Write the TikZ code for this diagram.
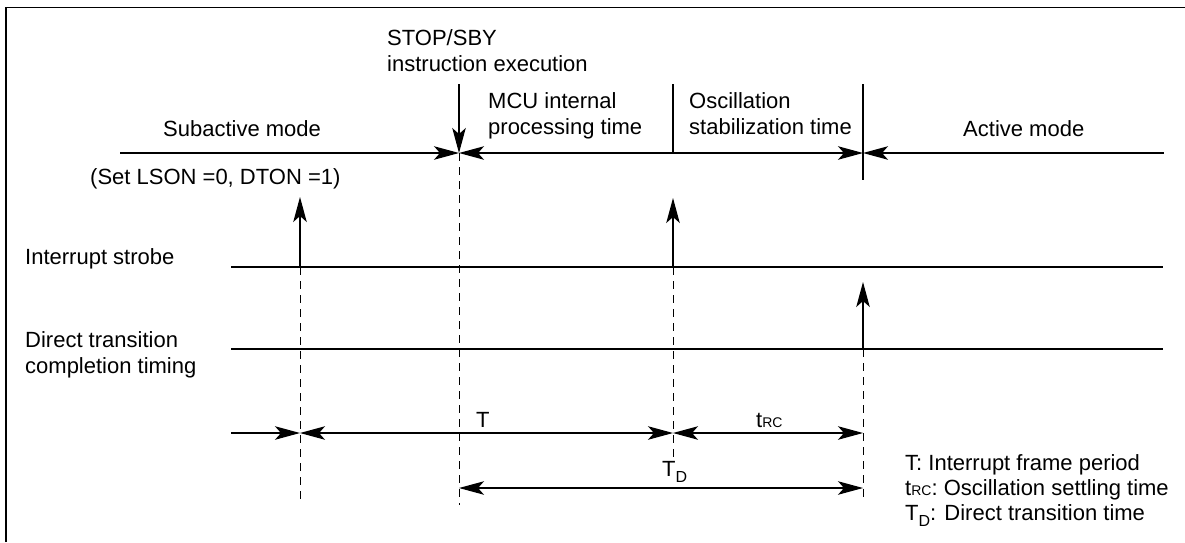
\documentclass[tikz,border=0pt]{standalone}
\usepackage{fontspec}
\setmainfont{Liberation Sans}
\usetikzlibrary{arrows.meta}
\newcommand{\rcsub}{{\fontsize{14}{14}\selectfont RC}}
\newcommand{\dsub}{\raisebox{-6pt}{\fontsize{16}{16}\selectfont D}}
\begin{document}
\begin{tikzpicture}[x=1pt,y=-1pt,
  lbl/.style={inner sep=0pt, anchor=base west, font=\fontsize{22}{26}\selectfont},
  ln/.style={line width=1.1pt, black},
  dsh/.style={line width=1pt, dash pattern=on 7.5pt off 6.5pt},
  tipend/.style={-{Stealth[length=25pt,width=13.5pt,inset=6pt]}},
  tipstart/.style={{Stealth[length=25pt,width=13.5pt,inset=6pt]}-},
  tipboth/.style={{Stealth[length=25pt,width=13.5pt,inset=6pt]}-{Stealth[length=25pt,width=13.5pt,inset=6pt]}}]
\useasboundingbox (0,0) rectangle (1185,542);
% frame
\coordinate (fBL) at (6,542);
\coordinate (fTL) at (6,7.3);
\coordinate (fTR) at (1185,7.3);
\draw[line width=1.3pt] (fBL) -- (fTL) -- (fTR);
% coordinates
\coordinate (mL) at (120,153);
\coordinate (mA) at (459,153);
\coordinate (mB) at (863,153);
\coordinate (mR) at (1164,153);
\coordinate (sA) at (459,84);
\coordinate (dA) at (673,84);
\coordinate (dAm) at (673,153);
\coordinate (dB) at (863,84);
\coordinate (dBb) at (863,180);
\coordinate (sL) at (231,267);
\coordinate (sR) at (1163,267);
\coordinate (cL) at (231,349);
\coordinate (cR) at (1163,349);
\coordinate (tL) at (231,433);
\coordinate (t1) at (300,433);
\coordinate (t2) at (673,433);
\coordinate (t3) at (863,433);
\coordinate (d1) at (459,488);
\coordinate (d2) at (863,488);
\coordinate (a1b) at (300,267);
\coordinate (a1t) at (300,197);
\coordinate (a2b) at (673,267);
\coordinate (a2t) at (673,198);
\coordinate (a3b) at (863,349);
\coordinate (a3t) at (863,282);
\coordinate (e1) at (300,502);
\coordinate (e2) at (459,505);
\coordinate (e3) at (673,458);
\coordinate (e4) at (863,502);
% mode line
\draw[ln,tipend] (mL) -- (mA);
\draw[ln,tipboth] (mA) -- (mB);
\draw[ln,tipstart] (mB) -- (mR);
\draw[ln,tipend] (sA) -- (mA);
\draw[ln] (dA) -- (dAm);
\draw[ln] (dB) -- (dBb);
% signal lines
\draw[ln] (sL) -- (sR);
\draw[ln] (cL) -- (cR);
% arrows up
\draw[ln,tipend] (a1b) -- (a1t);
\draw[ln,tipend] (a2b) -- (a2t);
\draw[ln,tipend] (a3b) -- (a3t);
% dashed
\draw[dsh] (a1b) -- (e1);
\draw[dsh] (mA) -- (e2);
\draw[dsh] (a2b) -- (e3);
\draw[dsh] (a3b) -- (e4);
% T line
\draw[ln,tipend] (tL) -- (t1);
\draw[ln,tipboth] (t1) -- (t2);
\draw[ln,tipboth] (t2) -- (t3);
% TD line
\draw[ln,tipboth] (d1) -- (d2);
% labels
\node[lbl] (stop1) at (387,45) {STOP/SBY};
\node[lbl] (stop2) at (387,71) {instruction execution};
\node[lbl] (mcu1) at (488,108) {MCU internal};
\node[lbl] (mcu2) at (488,134) {processing time};
\node[lbl] (osc1) at (689,108) {Oscillation};
\node[lbl] (osc2) at (689,134) {stabilization time};
\node[lbl] (sub) at (163,136) {Subactive mode};
\node[lbl] (act) at (963,136) {Active mode};
\node[lbl] (set) at (90,184) {(Set LSON =0, DTON =1)};
\node[lbl] (istr) at (25,264) {Interrupt strobe};
\node[lbl] (dir1) at (25,347) {Direct transition};
\node[lbl] (dir2) at (25,373) {completion timing};
\node[lbl] (tT) at (476,427) {T};
\node[lbl] (tRC) at (756,427) {t\rcsub};
\node[lbl] (tTD) at (662,476) {T\dsub};
\node[lbl] (leg1) at (905,470) {T: Interrupt frame period};
\node[lbl] (leg2) at (905,495) {t\rcsub: Oscillation settling time};
\node[lbl] (leg3) at (905,520) {T\dsub: Direct transition time};
\end{tikzpicture}
\end{document}
